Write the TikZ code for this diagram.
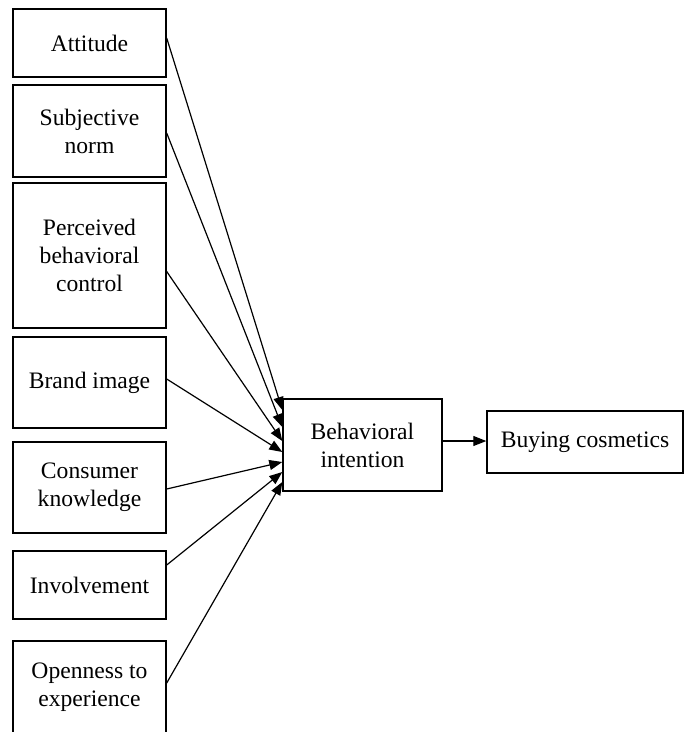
\documentclass[tikz,border=0pt]{standalone}
\usepackage{fontspec}
\setmainfont{Liberation Serif}
\usetikzlibrary{arrows.meta}
\begin{document}
\begin{tikzpicture}[x=1pt,y=-1pt,
  box/.style={draw, line width=1.4pt, inner sep=0pt, align=center,
    font=\fontsize{23.6}{28}\selectfont},
  lbox/.style={box, minimum width=153pt},
  conn/.style={line width=1.2pt, -{Triangle[length=13pt,width=10pt]}}]
\useasboundingbox (0,0) rectangle (685,732);
\clip (0,0) rectangle (685,732);
\node[lbox, minimum height=68pt] (att) at (89.5,43) {Attitude};
\node[lbox, minimum height=92pt] (sn) at (89.5,131) {Subjective\\norm};
\node[lbox, minimum height=145pt] (pbc) at (89.5,255.5) {Perceived\\behavioral\\control};
\node[lbox, minimum height=91pt] (bimg) at (89.5,382.5) {Brand image};
\node[lbox, minimum height=91pt] (ck) at (89.5,487.5) {Consumer\\knowledge};
\node[lbox, minimum height=68pt] (inv) at (89.5,585) {Involvement};
\node[lbox, minimum height=92pt] (ote) at (89.5,687) {Openness to\\experience};
\node[box, minimum width=159pt, minimum height=92pt] (bi) at (362.5,445) {Behavioral\\intention};
\node[box, minimum width=196pt, minimum height=62pt] (buy) at (585,442) {Buying cosmetics};
\draw[conn] ([yshift=5pt]att.east) -- ([yshift=35pt]bi.west);
\draw[conn] ([yshift=-2pt]sn.east) -- ([yshift=18pt]bi.west);
\draw[conn] ([yshift=-16pt]pbc.east) -- ([yshift=4pt]bi.west);
\draw[conn] ([yshift=3.5pt]bimg.east) -- ([yshift=-7pt]bi.west);
\draw[conn] ([yshift=-1.5pt]ck.east) -- ([yshift=-17pt]bi.west);
\draw[conn] ([yshift=20pt]inv.east) -- ([yshift=-27pt]bi.west);
\draw[conn] ([yshift=4pt]ote.east) -- ([yshift=-37pt]bi.west);
\draw[conn] ([yshift=4pt]bi.east) -- ([yshift=4pt]buy.west |- bi.east);
\end{tikzpicture}
\end{document}
